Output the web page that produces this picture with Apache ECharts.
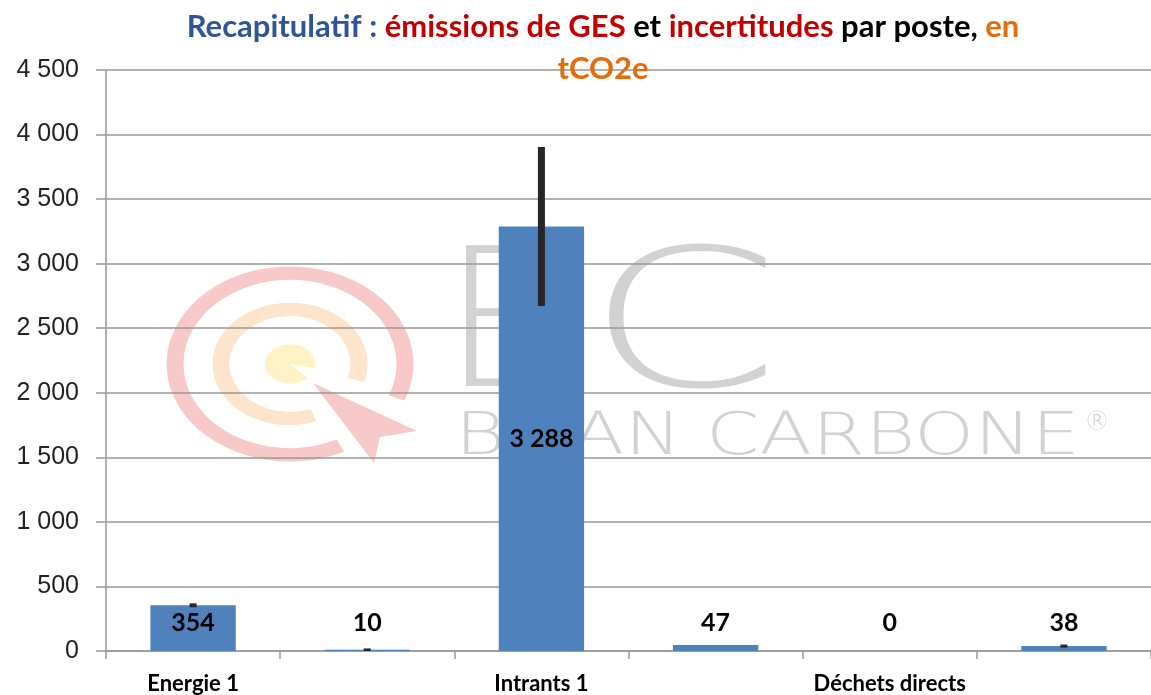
<!DOCTYPE html>
<html>
<head>
<meta charset="utf-8">
<script src="https://cdn.jsdelivr.net/npm/echarts@6/dist/echarts.min.js"></script>
<style>
  html, body { margin: 0; padding: 0; background: #fff; }
  #chart { width: 1151px; height: 695px; }
</style>
</head>
<body>
<div id="chart"></div>
<script>
'use strict';

// Postes (labels shown every other category, as in the original)
const categories = ['Energie 1', 'Hors énergie 1', 'Intrants 1', 'Fret', 'Déchets directs', 'Immobilisations'];
// Emissions, tCO2e
const emissions = [354, 10, 3288, 47, 0, 38];
// Incertitudes (+/-), tCO2e
const uncertainty = [15, 10, 615, 0, 0, 12];

const yTicks = { min: 0, max: 4500, interval: 500 };

// 4500 -> "4 500"
function fmt(v) {
    return String(v).replace(/\B(?=(\d{3})+(?!\d))/g, ' ');
}

const chart = echarts.init(document.getElementById('chart'));

const barData = emissions.map(v => {
    if (v > 1000) {
        return { value: v, label: { position: 'inside', distance: 0 } };
    }
    return v;
});

const errData = emissions.map((v, i) => [i, v - uncertainty[i], v + uncertainty[i]]);

const titleFont = { fontFamily: 'Lato', fontSize: 31, fontWeight: 'bold', lineHeight: 42 };
const deg = a => a * Math.PI / 180;

// watermark colours
const pink = '#F7C9C9';
const peach = '#FCE5CB';
const cream = '#FFF2C6';
const grey = '#d2d2d2';

const option = {
    backgroundColor: '#fff',
    animation: false,
    grid: { left: 106, top: 70, width: 1056, bottom: 42, containLabel: false },
    graphic: [
        // logo target, flattened vertically like the original picture
        {
            type: 'group', z: 0, silent: true,
            x: 290, y: 364, scaleY: 0.79,
            children: [
                { type: 'arc', shape: { cx: 0, cy: 0, r: 115, startAngle: deg(64), endAngle: deg(382) },
                  style: { stroke: pink, lineWidth: 17, fill: null } },
                { type: 'arc', shape: { cx: 0, cy: 0, r: 69, startAngle: deg(70), endAngle: deg(377) },
                  style: { stroke: peach, lineWidth: 17, fill: null } },
                { type: 'sector', shape: { cx: 0, cy: 0, r: 25, r0: 0, startAngle: deg(45), endAngle: deg(372) },
                  style: { fill: cream } }
            ]
        },
        { type: 'polygon', z: 0, silent: true,
          shape: { points: [[313, 383], [417, 431], [380, 437], [374, 463]] },
          style: { fill: pink } },
        { type: 'text', z: 0, silent: true, x: 440, y: 240, scaleX: 1.1,
          style: { text: 'B', fontFamily: 'DejaVu Sans', fontWeight: 200, fontSize: 192, fill: grey } },
        { type: 'text', z: 0, silent: true, x: 586, y: 240, scaleX: 1.45,
          style: { text: 'C', fontFamily: 'DejaVu Sans', fontWeight: 200, fontSize: 192, fill: grey } },
        { type: 'text', z: 0, silent: true, x: 455, y: 410, scaleX: 1.32,
          style: { text: 'BILAN CARBONE', fontFamily: 'DejaVu Sans', fontWeight: 200, fontSize: 58, fill: grey } },
        { type: 'text', z: 0, silent: true, x: 1084, y: 410,
          style: { text: '®', fontFamily: 'DejaVu Sans', fontWeight: 200, fontSize: 26, fill: grey } },
        // title
        {
            type: 'text', z: 10, silent: true, x: 603, y: 6,
            style: Object.assign({
                text: '{b|Recapitulatif : }{r|émissions de GES}{k| et }{r|incertitudes}{k| par poste, }{o|en}\n{o|tCO2e}',
                align: 'center',
                verticalAlign: 'top',
                rich: {
                    b: Object.assign({ fill: '#2F5597' }, titleFont),
                    r: Object.assign({ fill: '#C00000' }, titleFont),
                    k: Object.assign({ fill: '#000000' }, titleFont),
                    o: Object.assign({ fill: '#E46C0A' }, titleFont)
                }
            }, titleFont)
        }
    ],
    xAxis: {
        type: 'category',
        data: categories,
        boundaryGap: true,
        axisLine: { lineStyle: { color: '#999', width: 1.5 } },
        axisTick: { show: true, interval: 0, length: 8, lineStyle: { color: '#999', width: 1.5 } },
        axisLabel: {
            interval: 1,
            margin: 22,
            color: '#000',
            fontFamily: 'Lato',
            fontWeight: 'bold',
            fontSize: 22
        }
    },
    yAxis: {
        type: 'value',
        min: yTicks.min,
        max: yTicks.max,
        interval: yTicks.interval,
        axisLine: { show: true, lineStyle: { color: '#999', width: 1.5 } },
        axisTick: { show: true, length: 10, lineStyle: { color: '#999', width: 1.5 } },
        splitLine: { show: true, lineStyle: { color: '#999', width: 1.5 } },
        axisLabel: {
            formatter: fmt,
            margin: 27,
            color: '#222',
            fontFamily: 'Liberation Sans',
            fontSize: 25
        }
    },
    series: [
        {
            name: 'Emissions',
            type: 'bar',
            data: barData,
            barWidth: '49%',
            z: 2,
            itemStyle: { color: '#4F81BD' },
            label: {
                show: true,
                position: 'insideBottom',
                distance: 16,
                formatter: p => fmt(p.value),
                color: '#000',
                fontFamily: 'Lato',
                fontWeight: 'bold',
                fontSize: 25
            }
        },
        {
            name: 'Incertitudes',
            type: 'custom',
            z: 3,
            data: errData,
            renderItem: function (params, api) {
                const lo = api.coord([api.value(0), api.value(1)]);
                const hi = api.coord([api.value(0), api.value(2)]);
                if (Math.abs(lo[1] - hi[1]) < 0.5) return null;
                return {
                    type: 'line',
                    shape: { x1: lo[0], y1: lo[1], x2: hi[0], y2: hi[1] },
                    style: { stroke: '#262626', lineWidth: 7 }
                };
            }
        }
    ]
};

chart.setOption(option);
</script>
</body>
</html>
